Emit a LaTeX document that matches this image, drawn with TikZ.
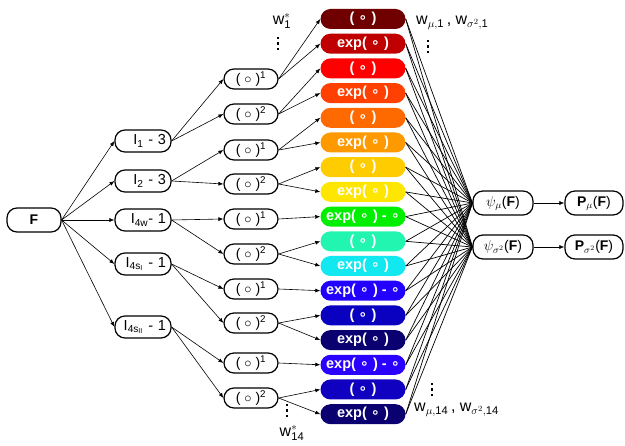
\documentclass[tikz,border=0pt]{standalone}
\usepackage{fontspec}
\usepackage{amsmath}
\setmainfont{Liberation Sans}
\newfontfamily\symfont{DejaVu Sans}
\usetikzlibrary{arrows.meta}

% fill colours of the activation boxes, top to bottom
\definecolor{c1}{HTML}{700000}
\definecolor{c2}{HTML}{C00000}
\definecolor{c3}{HTML}{FF0000}
\definecolor{c4}{HTML}{FF4000}
\definecolor{c5}{HTML}{FF6A00}
\definecolor{c6}{HTML}{FF9900}
\definecolor{c7}{HTML}{FFCC00}
\definecolor{c8}{HTML}{FFE600}
\definecolor{c9}{HTML}{00EE00}
\definecolor{c10}{HTML}{22F5B0}
\definecolor{c11}{HTML}{11E8F0}
\definecolor{c12}{HTML}{2200FF}
\definecolor{c13}{HTML}{0A00C0}
\definecolor{c14}{HTML}{0A0070}
\definecolor{c15}{HTML}{2A00FF}
\definecolor{c16}{HTML}{1000C0}
\definecolor{c17}{HTML}{0A0070}

\newcommand\ringop{{\symfont\bfseries ∘}}
\newcommand\idbox{( \ringop{} )}
\newcommand\expbox{exp( \ringop{} )}
\newcommand\expmbox{exp( \ringop{} ) - \ringop}
\newcommand\powbox[1]{( $\circ$ )\textsuperscript{#1}}

\begin{document}
\begin{tikzpicture}[x=1pt,y=-1pt,
  every node/.style={font=\fontsize{14}{16}\selectfont, inner sep=0pt},
  pill/.style={draw, line width=1.2pt, rounded corners=10pt,
               minimum height=22pt, minimum width=55pt},
  invpill/.style={pill, minimum width=56pt, text width=46pt, align=right,
                  font=\fontsize{14.5}{16}\selectfont},
  powpill/.style={pill, minimum height=20pt, minimum width=54pt},
  act/.style={fill=#1, rounded corners=10pt, minimum height=20pt,
              minimum width=85pt, text=white,
              font=\fontsize{14.5}{16}\selectfont\bfseries},
  arr/.style={-{Latex[length=5pt,width=4pt]}, line width=0.6pt},
  link/.style={line width=0.7pt},
  wlabel/.style={font=\fontsize{16}{17}\selectfont},
  dot/.style={fill=black}
]
\useasboundingbox (0,0) rectangle (625,446);

% input
\node[pill, minimum height=24pt, minimum width=54pt] (F) at (34,220) {\textbf{F}};

% invariants
\node[invpill] (I1) at (143,141) {I\textsubscript{1} - 3};
\node[invpill] (I2) at (143,181) {I\textsubscript{2} - 3};
\node[invpill] (I3) at (143,220) {I\textsubscript{4w}- 1};
\node[invpill] (I4) at (143,264) {I\textsubscript{4s\textsubscript{I}} - 1};
\node[invpill] (I5) at (143,327) {I\textsubscript{4s\textsubscript{II}} - 1};

% powers
\foreach \k/\y/\p in {1/79/1, 2/114/2, 3/150/1, 4/184/2, 5/219/1,
                      6/254/2, 7/289/1, 8/323/2, 9/363/1, 10/398/2}
  \node[powpill] (m\k) at (251,\y) {\powbox{\p}};

% activation functions
\foreach \i/\t in {1/\idbox, 2/\expbox, 3/\idbox, 4/\expbox, 5/\idbox,
                   6/\expbox, 7/\idbox, 8/\expbox, 9/\expmbox, 10/\idbox,
                   11/\expbox, 12/\expmbox, 13/\idbox, 14/\expbox,
                   15/\expmbox, 16/\idbox, 17/\expbox}
  \node[act=c\i] (b\i) at (363,{19+24.7*(\i-1)}) {\t};

% outputs
\node[pill, minimum width=60pt, minimum height=24pt] (pm) at (503,203) {$\psi_{\mu}$(\textbf{F})};
\node[pill, minimum width=60pt, minimum height=24pt] (ps) at (503,247) {$\psi_{\sigma^2}$(\textbf{F})};
\node[pill, minimum width=58pt, minimum height=24pt] (Pm) at (594,203) {\textbf{P}$_{\mu}$(\textbf{F})};
\node[pill, minimum width=58pt, minimum height=24pt] (Ps) at (594,247) {\textbf{P}$_{\sigma^2}$(\textbf{F})};

% connectors
\foreach \j in {1,...,5} \draw[arr] (F.east) -- (I\j.west);
\foreach \a/\b in {1/1,1/2,2/3,2/4,3/5,3/6,4/7,4/8,5/9,5/10}
  \draw[arr] (I\a.east) -- (m\b.west);
\foreach \a/\b in {1/1,1/2,2/3,2/4,3/5,3/6,4/7,4/8,5/9,6/10,6/11,
                   7/12,8/13,8/14,9/15,10/16,10/17}
  \draw[arr] (m\a.east) -- (b\b.west);
\foreach \b in {1,...,17} {
  \draw[link] (b\b.east) -- (pm.west);
  \draw[link] (b\b.east) -- (ps.west);
}
\draw[arr] (pm.east) -- (Pm.west);
\draw[arr] (ps.east) -- (Ps.west);

% weight labels
\node[wlabel] (w1) at (282,21) {$\text{w}^{*}_{\text{1}}$};
\node[wlabel] (w14) at (292,433) {$\text{w}^{*}_{\text{14}}$};
\node[wlabel, anchor=west] (wa) at (416,23) {w$_{\mu,\text{1}}$\,, w$_{\sigma^2,\text{1}}$};
\node[wlabel, anchor=west] (wb) at (414,410) {w$_{\mu,\text{14}}$\,, w$_{\sigma^2,\text{14}}$};

% vertical ellipses under / above the labels
\foreach \x/\y in {278/38, 287/405, 428/41, 432/384}
  \foreach \d in {0,5.5,11}
    \fill[dot] (\x-1.3,\y+\d-1.3) rectangle (\x+1.3,\y+\d+1.3);
\end{tikzpicture}
\end{document}
